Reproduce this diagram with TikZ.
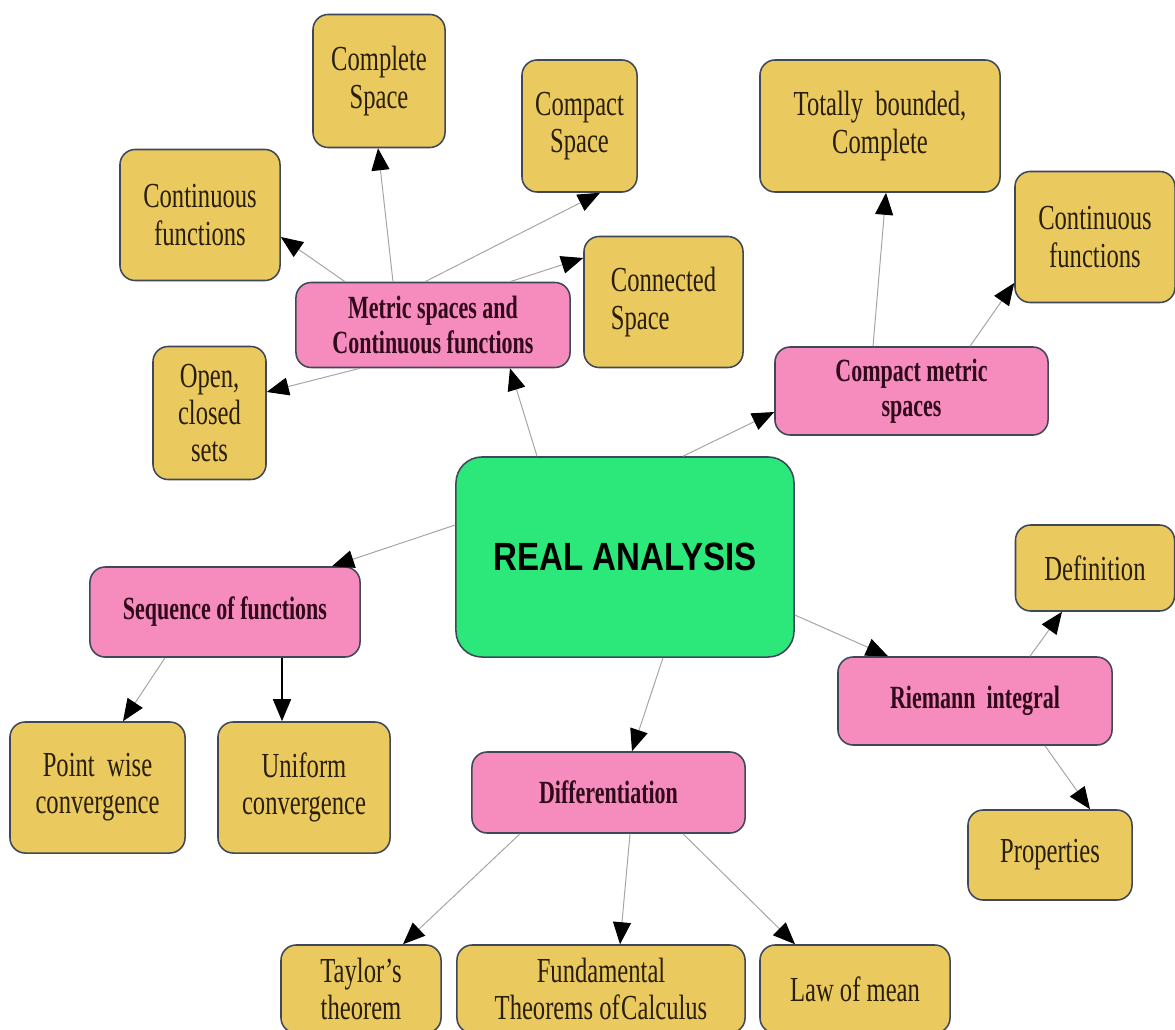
\documentclass[tikz,border=0pt]{standalone}
\usepackage{fontspec}
\usetikzlibrary{arrows.meta}
\newfontfamily\yfont{Liberation Serif}[FakeStretch=0.70]
\newfontfamily\pfont{Liberation Serif}[FakeStretch=0.68]
\newfontfamily\rafont{Liberation Sans}[FakeStretch=0.84]
\definecolor{leafc}{RGB}{234,202,94}
\definecolor{midc}{RGB}{246,140,190}
\definecolor{rootc}{RGB}{44,232,122}
\definecolor{bordc}{RGB}{62,72,88}
\definecolor{edgec}{RGB}{165,165,165}
\definecolor{midtext}{RGB}{48,10,26}
\definecolor{leaftext}{RGB}{40,30,10}
\tikzset{
  basebox/.style={draw=bordc, line width=1.1pt, rounded corners=0.38cm, align=center, inner sep=0pt},
  leafbox/.style={basebox, fill=leafc, text=leaftext, font=\yfont\fontsize{25}{26.5}\selectfont},
  midbox/.style={basebox, fill=midc, text=midtext, font=\pfont\bfseries\fontsize{23}{25}\selectfont},
  rootbox/.style={basebox, fill=rootc, rounded corners=0.65cm, text=black, font=\rafont\bfseries\fontsize{28}{32}\selectfont},
  arr/.style={draw=edgec, line width=0.7pt, -{Triangle[length=0.55cm,width=0.45cm,color=black]}},
  barr/.style={arr, draw=black, line width=1.1pt}
}
\begin{document}
\begin{tikzpicture}[x=0.025cm, y=-0.025cm]
\useasboundingbox (0,0) rectangle (1175,1030);
\fill[white] (0,0) rectangle (1175,1030);
% nodes
\node[leafbox, minimum width=3.3cm, minimum height=3.325cm] (complete) at (379,81) {Complete\\Space};
\node[leafbox, minimum width=2.875cm, minimum height=3.3cm] (compactS) at (579.5,126) {Compact\\Space};
\node[leafbox, minimum width=4.0cm, minimum height=3.275cm] (contL) at (200,215) {Continuous\\functions};
\node[leafbox, minimum width=3.975cm, minimum height=3.275cm, align=left] (connected) at (663.5,302) {Connected\\Space};
\node[midbox, minimum width=6.85cm, minimum height=2.125cm] (metric) at (433,325) {Metric spaces and\\Continuous functions};
\node[leafbox, minimum width=2.825cm, minimum height=3.325cm] (open) at (209.5,413) {Open,\\closed\\sets};
\node[leafbox, minimum width=6.0cm, minimum height=3.3cm] (totally) at (880,126) {Totally\ \ bounded,\\Complete};
\node[leafbox, minimum width=4.0cm, minimum height=3.275cm] (contR) at (1095,237) {Continuous\\functions};
\node[midbox, minimum width=6.825cm, minimum height=2.2cm] (cmetric) at (911.5,391) {Compact metric\\spaces};
\node[rootbox, minimum width=8.45cm, minimum height=5.0cm] (ra) at (625,557) {REAL ANALYSIS};
\node[midbox, minimum width=6.75cm, minimum height=2.25cm] (seq) at (225,612) {Sequence of functions};
\node[leafbox, minimum width=4.375cm, minimum height=3.275cm] (point) at (97.5,787.5) {Point\ \ wise\\convergence};
\node[leafbox, minimum width=4.3cm, minimum height=3.275cm] (uniform) at (304,787.5) {Uniform\\convergence};
\node[midbox, minimum width=6.825cm, minimum height=2.025cm] (diff) at (608.5,792.5) {Differentiation};
\node[midbox, minimum width=6.85cm, minimum height=2.2cm] (riemann) at (975,701) {Riemann\ \ integral};
\node[leafbox, minimum width=3.975cm, minimum height=2.15cm] (def) at (1095,568) {Definition};
\node[leafbox, minimum width=4.1cm, minimum height=2.25cm] (prop) at (1050,855) {Properties};
\node[leafbox, minimum width=4.0cm, minimum height=2.2cm] (taylor) at (361,989) {Taylor’s\\theorem};
\node[leafbox, minimum width=7.2cm, minimum height=2.2cm] (fund) at (601,989) {Fundamental\\Theorems of\kern1pt Calculus};
\node[leafbox, minimum width=4.75cm, minimum height=2.2cm] (law) at (855,989) {Law of mean};
% connectors
\draw[arr] (ra.north -| 537,0) -- (metric.south -| 510,0);
\draw[arr] (metric.north -| 393,0) -- (complete.south -| 378,0);
\draw[arr] (metric.north -| 345,0) -- (contL.east |- 0,237);
\draw[arr] (metric.north -| 425,0) -- (compactS.south -| 600,0);
\draw[arr] (metric.north -| 510,0) -- (connected.west |- 0,258);
\draw[arr] (metric.south -| 360,0) -- (open.east |- 0,392);
\draw[arr] (ra.north -| 683,0) -- (cmetric.west |- 0,412);
\draw[arr] (cmetric.north -| 873,0) -- (totally.south -| 886,0);
\draw[arr] (cmetric.north -| 970,0) -- (contR.west |- 0,283);
\draw[arr] (ra.west |- 0,525) -- (seq.north -| 332,0);
\draw[arr] (seq.south -| 165,0) -- (point.north -| 123,0);
\draw[barr] (seq.south -| 282,0) -- (uniform.north -| 282,0);
\draw[arr] (ra.south -| 663,0) -- (diff.north -| 632,0);
\draw[arr] (ra.east |- 0,615) -- (riemann.north -| 888,0);
\draw[arr] (riemann.north -| 1030,0) -- (def.south -| 1062,0);
\draw[arr] (riemann.south -| 1045,0) -- (prop.north -| 1090,0);
\draw[arr] (diff.south -| 520,0) -- (taylor.north -| 403,0);
\draw[arr] (diff.south -| 630,0) -- (fund.north -| 620,0);
\draw[arr] (diff.south -| 683,0) -- (law.north -| 795,0);
\end{tikzpicture}
\end{document}
